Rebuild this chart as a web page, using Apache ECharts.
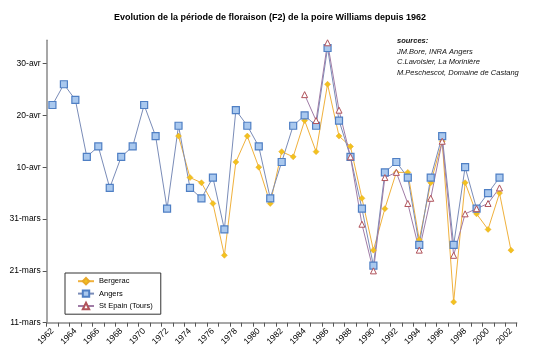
<!DOCTYPE html>
<html>
<head>
<meta charset="utf-8">
<script src="https://cdn.jsdelivr.net/npm/echarts@6/dist/echarts.min.js"></script>
<style>html,body{margin:0;padding:0;background:#fff}#c{width:540px;height:361px}</style>
</head>
<body>
<div id="c"></div>
<script>
// Values: day number counted from 1 March (31 = 31-mars, 41 = 10-avr, ...)
var years = [];
for (var y = 1962; y <= 2002; y++) years.push(String(y));

var bergerac = [null,null,null,null,null,null,null,null,null,null,null,
  47,39,38,34,24,42,47,41,34,44,43,50,44,57,47,45,35,25,33,40,40,27,38,46,15,38,32,29,36,25];
var angers = [53,57,54,43,45,37,43,45,53,47,33,49,37,35,39,29,52,49,45,35,42,49,51,49,64,50,43,33,22,40,42,39,26,39,47,26,41,33,36,39,null];
var stEpain = [null,null,null,null,null,null,null,null,null,null,null,null,null,null,null,null,null,null,null,null,null,null,
  55,50,65,52,43,30,21,39,40,34,25,35,46,24,32,33,34,37,null];

var yTickValues = [11,21,31,41,51,61];
var yTickLabels = ['11-mars','21-mars','31-mars','10-avr','20-avr','30-avr'];

var sources = ['sources:', 'JM.Bore, INRA Angers', 'C.Lavoisier, La Morinière', 'M.Peschescot, Domaine de Castang'];

var FONT = '"Liberation Sans", Arial, sans-serif';
var chart = echarts.init(document.getElementById('c'), null, {renderer: 'canvas'});
chart.setOption({
  animation: false,
  backgroundColor: '#ffffff',
  textStyle: {fontFamily: FONT},
  title: {
    text: 'Evolution de la période de floraison (F2) de la poire Williams depuis 1962',
    left: 'center', top: 8,
    textStyle: {fontFamily: FONT, fontSize: 9, fontWeight: 'bold', color: '#000'}
  },
  graphic: sources.map(function (s, i) {
    return {
      type: 'text', left: 397, top: 37 + i * 10.5,
      style: {text: s, fill: '#111', font: (i === 0 ? 'italic bold ' : 'italic ') + '7.5px ' + FONT}
    };
  }),
  legend: {
    orient: 'vertical', left: 65, top: 273,
    backgroundColor: '#fff', borderColor: '#333', borderWidth: 1,
    padding: [4, 8, 4, 12], itemGap: 4, itemWidth: 16, itemHeight: 8,
    textStyle: {fontFamily: FONT, fontSize: 7.5, color: '#000'},
    data: ['Bergerac', 'Angers', 'St Epain (Tours)']
  },
  grid: {left: 46.7, right: 23.3, top: 40.2, bottom: 38.3, containLabel: false},
  xAxis: {
    type: 'category', data: years, boundaryGap: true,
    axisLine: {lineStyle: {color: '#8a8a8a', width: 1.5}},
    axisTick: {show: true, interval: 0, length: 4, inside: false, lineStyle: {color: '#555'}},
    axisLabel: {interval: 1, rotate: 45, fontSize: 8.5, color: '#000', margin: 7, fontFamily: FONT},
    splitLine: {show: false}
  },
  yAxis: {
    type: 'value', min: 11, max: 65.5,
    axisLine: {show: true, lineStyle: {color: '#8a8a8a', width: 1.5}},
    axisTick: {show: true, length: 4, customValues: yTickValues, lineStyle: {color: '#555'}},
    axisLabel: {
      customValues: yTickValues, fontSize: 8.5, color: '#000', margin: 6, fontFamily: FONT,
      formatter: function (v) { var i = yTickValues.indexOf(v); return i >= 0 ? yTickLabels[i] : ''; }
    },
    splitLine: {show: false}
  },
  series: [
    {
      name: 'Bergerac', type: 'line', data: bergerac,
      symbol: 'diamond', symbolSize: 6,
      lineStyle: {color: '#f0b13c', width: 1},
      itemStyle: {color: '#f2c21e', borderColor: '#e8a92a', borderWidth: 0.5}
    },
    {
      name: 'Angers', type: 'line', data: angers,
      symbol: 'rect', symbolSize: 7,
      lineStyle: {color: '#7a8cb8', width: 1},
      itemStyle: {color: '#a9c8ee', borderColor: '#4f7fc4', borderWidth: 1.2}
    },
    {
      name: 'St Epain (Tours)', type: 'line', data: stEpain,
      symbol: 'triangle', symbolSize: 6,
      lineStyle: {color: '#a07ca6', width: 1},
      itemStyle: {color: '#ffffff', borderColor: '#b0525a', borderWidth: 1}
    }
  ]
});
</script>
</body>
</html>
